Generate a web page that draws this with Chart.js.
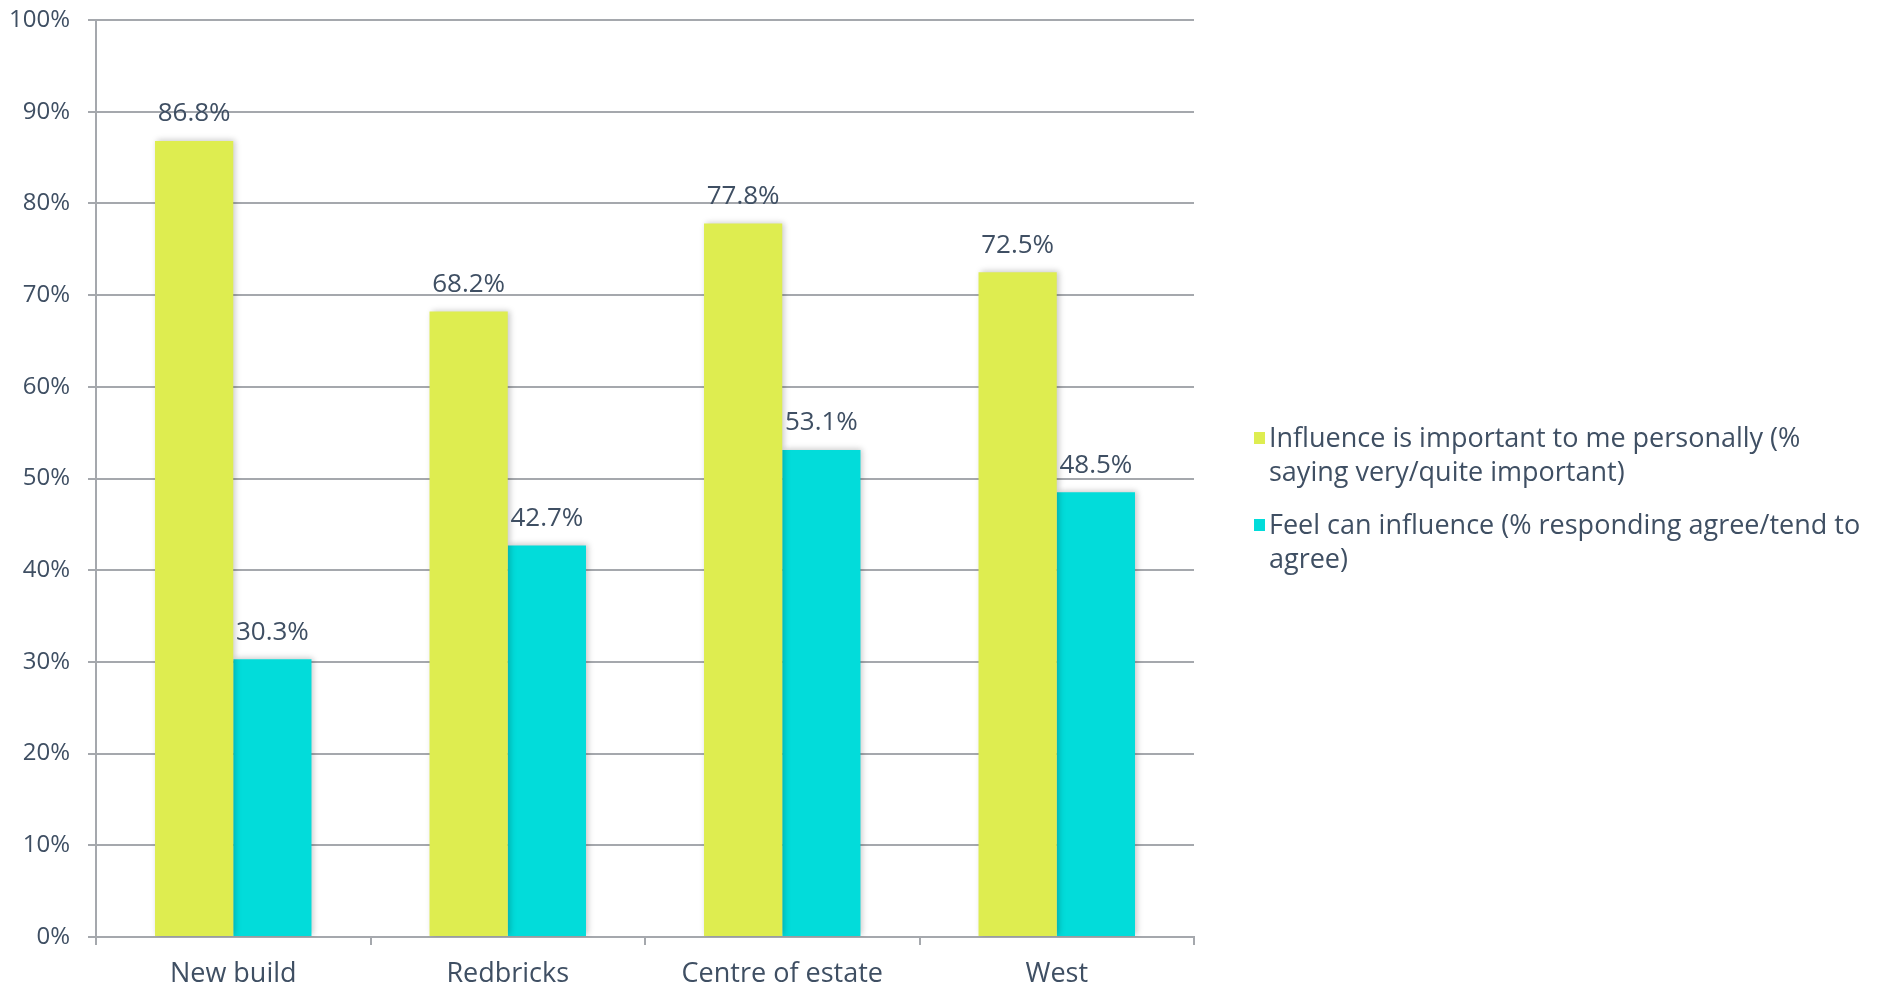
<!DOCTYPE html>
<html>
<head>
<meta charset="utf-8">
<script src="https://cdn.jsdelivr.net/npm/chart.js@4"></script>
<style>
  html, body { margin: 0; padding: 0; background: #fff; }
  #wrap { width: 1881px; height: 986px; }
</style>
</head>
<body>
<div id="wrap"><canvas id="chart"></canvas></div>
<script>
const categories = ['New build', 'Redbricks', 'Centre of estate', 'West'];
const important = [86.8, 68.2, 77.8, 72.5];
const canInfluence = [30.3, 42.7, 53.1, 48.5];
const seriesNames = [
    ['Influence is important to me personally (%', 'saying very/quite important)'],
    ['Feel can influence (% responding agree/tend to', 'agree)']
];
const colors = ['#DEED50', '#02DCDA'];

const FONT = '"Open Sans", sans-serif';
const TEXT = '#3F4F63';
const GRID = '#A5A8AD';

// labels above bars
const valueLabels = {
    id: 'valueLabels',
    afterDatasetsDraw(chart) {
        const ctx = chart.ctx;
        ctx.save();
        ctx.font = '26px ' + FONT;
        ctx.fillStyle = TEXT;
        ctx.textAlign = 'center';
        ctx.textBaseline = 'bottom';
        chart.data.datasets.forEach((ds, i) => {
            chart.getDatasetMeta(i).data.forEach((bar, j) => {
                ctx.fillText(ds.data[j].toFixed(1) + '%', bar.x, bar.y - 14);
            });
        });
        ctx.restore();
    }
};

// soft shadow behind bars
const barShadow = {
    id: 'barShadow',
    beforeDatasetsDraw(chart) {
        const ctx = chart.ctx;
        ctx.save();
        ctx.shadowColor = 'rgba(0,0,0,0.22)';
        ctx.shadowBlur = 6;
        ctx.shadowOffsetX = 2;
        ctx.shadowOffsetY = -1;
    },
    afterDatasetsDraw(chart) {
        chart.ctx.restore();
    }
};

// legend drawn at the right, with wrapped lines
const sideLegend = {
    id: 'sideLegend',
    afterDraw(chart) {
        const ctx = chart.ctx;
        ctx.save();
        ctx.font = '27px ' + FONT;
        ctx.textBaseline = 'middle';
        ctx.textAlign = 'left';
        let y = 439;
        chart.data.datasets.forEach((ds, i) => {
            ctx.fillStyle = ds.backgroundColor;
            ctx.fillRect(1254, y - 7, 11, 12);
            ctx.fillStyle = TEXT;
            seriesNames[i].forEach((line, k) => {
                ctx.fillText(line, 1269, y + k * 34);
            });
            y += 87;
        });
        ctx.restore();
    }
};

new Chart(document.getElementById('chart').getContext('2d'), {
    type: 'bar',
    data: {
        labels: categories,
        datasets: [
            { label: seriesNames[0].join(' '), data: important, backgroundColor: colors[0] },
            { label: seriesNames[1].join(' '), data: canInfluence, backgroundColor: colors[1] }
        ]
    },
    options: {
        responsive: true,
        maintainAspectRatio: false,
        animation: false,
        layout: { padding: { top: 20, right: 687, left: 0, bottom: 0 } },
        datasets: { bar: { categoryPercentage: 0.57, barPercentage: 1.0 } },
        plugins: {
            legend: { display: false },
            tooltip: { enabled: false }
        },
        scales: {
            x: {
                afterFit: s => { s.height = 49; },
                grid: { offset: true, drawOnChartArea: false, drawTicks: true, tickLength: 8, color: GRID, lineWidth: 2 },
                border: { color: GRID, width: 2 },
                ticks: { font: { family: FONT, size: 27 }, color: TEXT, padding: 13 }
            },
            y: {
                min: 0,
                max: 100,
                afterFit: s => { s.width = 96; s.paddingTop = 0; s.paddingBottom = 0; },
                grid: { color: GRID, lineWidth: 2, tickLength: 8 },
                border: { color: GRID, width: 2 },
                ticks: {
                    stepSize: 10,
                    font: { family: FONT, size: 24, lineHeight: 0.8 },
                    color: TEXT,
                    padding: 18,
                    callback: v => v + '%'
                }
            }
        }
    },
    plugins: [barShadow, valueLabels, sideLegend]
});
</script>
</body>
</html>
